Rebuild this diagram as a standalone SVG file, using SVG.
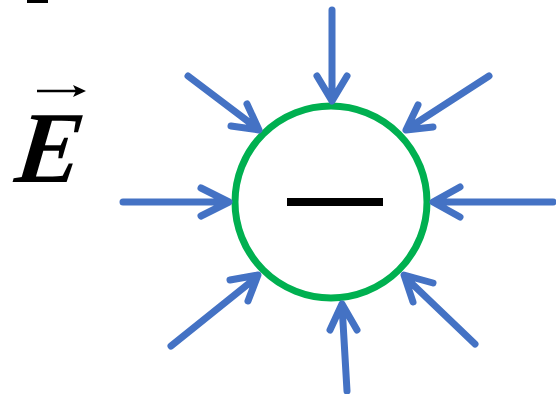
<svg xmlns="http://www.w3.org/2000/svg" width="556" height="394" viewBox="0 0 556 394">
<style>
.ar{fill:none;stroke:#4472C4;stroke-width:7;stroke-linecap:round;stroke-linejoin:round}
.e{font-family:"Liberation Serif",serif;font-weight:bold;font-size:102px;fill:#000}
</style>
<rect width="556" height="394" fill="#fff"/>
<rect x="27" y="0" width="21" height="3" fill="#000"/>
<g id="label-E">
<text class="e" x="0" y="0" transform="translate(11 182) skewX(-16) scale(0.9 1)">E</text>
<line x1="37" y1="91" x2="76" y2="91" stroke="#000" stroke-width="2.5"/>
<polygon points="86,91 73,85 76,91 73,97" fill="#000"/>
</g>
<g id="charge">
<circle cx="331" cy="202" r="96" fill="#fff" stroke="#00B050" stroke-width="7"/>
<rect x="287" y="198" width="96" height="8" fill="#000"/>
</g>
<g id="connectors">
<path class="ar" d="M332 10V100M317 76L332 101L347 76"/>
<path class="ar" d="M123 202H228M201 188L229 202L201 216"/>
<path class="ar" d="M553 202H434M460 187L433 202L460 217"/>
<path class="ar" d="M347 391L342 305M330 330L342 304L357 330"/>
<path class="ar" d="M171 346L257 277M230 280L258 275L248 301"/>
<path class="ar" d="M475 344L405 277M433 283L404 275L413 302"/>
<path class="ar" d="M188 76L258 129M247 104L259 130L231 126"/>
<path class="ar" d="M489 76L407 129M418 105L406 130L433 127"/>
</g>
</svg>
